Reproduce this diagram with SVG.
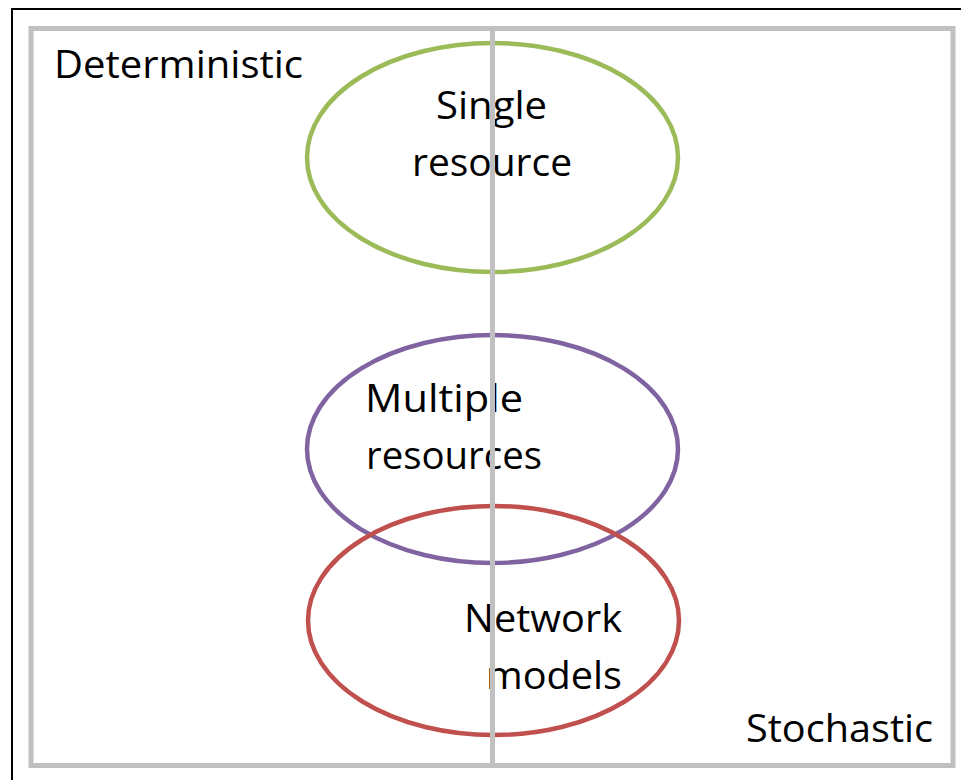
<svg xmlns="http://www.w3.org/2000/svg" width="961" height="780" viewBox="0 0 961 780">
  <style>
    .lbl { font-family: "Open Sans", Lato, "Liberation Sans", sans-serif; font-size: 38px; fill: #000; }
    .set { fill: none; stroke-width: 4.5; }
    .grid { fill: none; stroke: #c0c0c0; stroke-width: 5; }
  </style>
  <rect width="961" height="780" fill="#fff"/>
  <!-- outer frame -->
  <rect x="12" y="9" width="960" height="780" fill="none" stroke="#000" stroke-width="2"/>

  <g id="single-resource">
    <ellipse class="set" cx="492.5" cy="157.5" rx="185.5" ry="114.5" stroke="#9bbb59"/>
    <text class="lbl" x="436" y="119" textLength="111" lengthAdjust="spacingAndGlyphs">Single</text>
    <text class="lbl" x="412" y="176" textLength="160" lengthAdjust="spacingAndGlyphs">resource</text>
  </g>

  <g id="multiple-resources">
    <ellipse class="set" cx="492.5" cy="449" rx="185.5" ry="114" stroke="#8064a2"/>
    <text class="lbl" x="365" y="412" textLength="158" lengthAdjust="spacingAndGlyphs">Multiple</text>
    <text class="lbl" x="366" y="469" textLength="176" lengthAdjust="spacingAndGlyphs">resources</text>
  </g>

  <g id="network-models">
    <ellipse class="set" cx="493.5" cy="620.5" rx="185.5" ry="114.5" stroke="#c0504d"/>
    <text class="lbl" x="464" y="632" textLength="158" lengthAdjust="spacingAndGlyphs">Network</text>
    <text class="lbl" x="486" y="689" textLength="136" lengthAdjust="spacingAndGlyphs">models</text>
  </g>

  <g id="axis-labels">
    <text class="lbl" x="54" y="78" textLength="249" lengthAdjust="spacingAndGlyphs">Deterministic</text>
    <text class="lbl" x="746" y="742" textLength="187" lengthAdjust="spacingAndGlyphs">Stochastic</text>
  </g>

  <!-- quadrant frame and divider -->
  <g id="connectors">
    <rect class="grid" x="31" y="28.5" width="922" height="737"/>
    <line class="grid" x1="492.5" y1="28.5" x2="492.5" y2="765.5"/>
  </g>
</svg>
